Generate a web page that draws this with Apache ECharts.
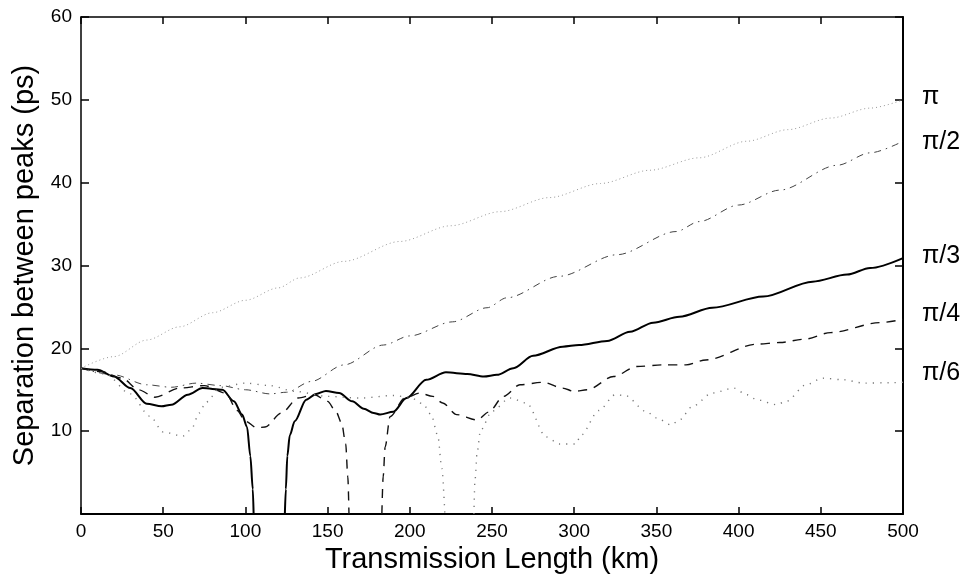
<!DOCTYPE html>
<html>
<head>
<meta charset="utf-8">
<script src="https://cdn.jsdelivr.net/npm/echarts@6/dist/echarts.min.js"></script>
<style>
  html, body { margin: 0; padding: 0; background: #fff; }
  #chart { width: 970px; height: 580px; }
</style>
</head>
<body>
<div id="chart"></div>
<script>
// Peak separation (ps) versus transmission length (km), one curve per initial relative phase.
const xTicks = [0, 50, 100, 150, 200, 250, 300, 350, 400, 450, 500];
const yTicks = [10, 20, 30, 40, 50, 60];

const phasePi = [
  [0, 17.6], [20, 19.0], [40, 21.0], [60, 22.6], [80, 24.3], [100, 25.8], [120, 27.3],
  [133, 28.5], [160, 30.5], [194, 32.9], [225, 34.8], [255, 36.5], [285, 38.2],
  [316, 39.9], [346, 41.5], [376, 43.0], [405, 45.0], [430, 46.4], [456, 47.8],
  [480, 49.0], [500, 50.0]
];

const phaseHalfPi = [
  [0, 17.6], [20, 16.8], [40, 15.6], [55, 15.3], [70, 15.8], [85, 15.5], [100, 15.0],
  [115, 14.5], [125, 14.7], [140, 16.0], [160, 18.0], [184, 20.4], [200, 21.5],
  [226, 23.2], [247, 24.9], [259, 26.1], [291, 28.7], [326, 31.3], [362, 34.1],
  [376, 35.3], [400, 37.3], [425, 39.1], [460, 42.1], [480, 43.6], [500, 45.0]
];

const phaseThirdPi = [
  [0, 17.6], [10, 17.4], [20, 16.6], [30, 15.2], [40, 13.3], [49, 13.0], [55, 13.2],
  [65, 14.4], [74, 15.2], [86, 15.0], [93, 13.6], [98, 12.0], [101, 10.5], [103, 7.0],
  [104.5, 3.0], [105, 0], [114, null],
  [124, 0], [124.6, 3.0], [125.5, 7.0], [127, 9.5], [130, 11.2], [137, 13.8], [143, 14.5],
  [149, 14.85], [157, 14.6], [165, 13.6], [172, 12.7], [178, 12.2], [182, 12.0],
  [190, 12.35], [198, 14.0], [210, 16.2], [222, 17.1], [235, 16.9], [245, 16.6],
  [253, 16.8], [263, 17.6], [275, 19.1], [293, 20.2], [303, 20.4], [320, 20.9],
  [334, 22.0], [348, 23.1], [364, 23.8], [384, 24.9], [415, 26.25], [445, 28.05],
  [466, 28.9], [480, 29.7], [500, 30.9]
];

const phaseQuarterPi = [
  [0, 17.6], [12, 17.2], [25, 16.4], [35, 15.0], [45, 14.1], [60, 15.2], [75, 15.5],
  [88, 14.6], [95, 12.5], [100, 11.2], [107, 10.4], [112, 10.5], [122, 12.2], [132, 14.0],
  [142, 14.4], [150, 13.6], [155, 12.4], [158.5, 11.0], [161, 8.5], [162.3, 4.5],
  [163, 0], [173, null],
  [183, 0], [183.8, 4.5], [185, 8.1], [188, 11.75], [197, 14.0], [206, 14.6], [214, 14.2],
  [220, 13.4], [228.5, 12.0], [241, 11.35], [248, 12.3], [257, 14.2], [267, 15.6],
  [281, 15.9], [293, 15.2], [300, 14.8], [308, 15.0], [324, 16.6], [338, 17.8],
  [354, 18.0], [368, 18.0], [380, 18.6], [411, 20.5], [425, 20.7], [440, 21.1],
  [456, 21.9], [486, 23.1], [500, 23.5]
];

const phaseSixthPi = [
  [0, 17.6], [15, 16.9], [30, 14.5], [42, 11.8], [50, 9.9], [62, 9.4], [67, 10.2],
  [72, 12.2], [76, 13.5], [85, 15.3], [100, 15.8], [115, 15.5], [130, 14.8], [150, 14.2],
  [170, 14.0], [190, 14.3], [200, 14.1], [208, 13.3], [213, 12.0], [217, 9.5],
  [219.5, 5.5], [221.3, 0], [230, null],
  [239, 0], [239.6, 4.0], [241, 7.5], [243, 10.1], [250, 12.4], [261, 14.0], [271, 13.4],
  [283, 9.3], [291, 8.45], [301, 8.45], [304, 9.5], [315, 12.5], [325, 14.4], [331, 14.3],
  [344, 12.35], [350, 11.6], [359, 10.75], [364, 11.35], [372, 13.0], [384, 14.6],
  [397, 15.2], [405, 14.4], [411, 13.8], [423, 13.2], [429, 13.6], [441, 15.6],
  [451, 16.4], [464, 16.2], [476, 15.8], [492, 15.85], [500, 15.9]
];

const seriesNames = ['\u03c0', '\u03c0/2', '\u03c0/3', '\u03c0/4', '\u03c0/6'];

const chart = echarts.init(document.getElementById('chart'), null, { renderer: 'canvas' });

const baseFont = 'Liberation Sans, Arial, Helvetica, sans-serif';

function curve(name, data, lineStyle, labelOffsetY) {
  return {
    name: name,
    type: 'line',
    data: data,
    showSymbol: false,
    symbol: 'none',
    smooth: 0.3,
    smoothMonotone: 'x',
    connectNulls: false,
    clip: true,
    lineStyle: lineStyle,
    endLabel: {
      show: true,
      formatter: name,
      distance: 19,
      offset: [0, labelOffsetY],
      color: '#000',
      fontFamily: baseFont,
      fontSize: 25
    },
    emphasis: { disabled: true },
    z: 3
  };
}

const tickFont = { color: '#000', fontFamily: baseFont, fontSize: 19 };

chart.setOption({
  animation: false,
  backgroundColor: '#fff',
  grid: { left: 81, right: 67, top: 17, bottom: 66, containLabel: false },
  xAxis: [
    {
      type: 'value', min: 0, max: 500, interval: 50, position: 'bottom',
      name: 'Transmission Length (km)', nameLocation: 'middle', nameGap: 28,
      nameTextStyle: { color: '#000', fontFamily: baseFont, fontSize: 29 },
      axisLine: { show: true, onZero: false, lineStyle: { color: '#000', width: 2 } },
      axisTick: { show: true, inside: true, length: 7, lineStyle: { color: '#000', width: 1.5 } },
      axisLabel: Object.assign({ margin: 8 }, tickFont),
      splitLine: { show: false }
    },
    {
      type: 'value', min: 0, max: 500, interval: 50, position: 'top',
      axisLine: { show: true, onZero: false, lineStyle: { color: '#000', width: 1.5 } },
      axisTick: { show: true, inside: true, length: 7, lineStyle: { color: '#000', width: 1.5 } },
      axisLabel: { show: false },
      splitLine: { show: false }
    }
  ],
  yAxis: [
    {
      type: 'value', min: 0, max: 60, interval: 10, position: 'left',
      name: 'Separation between peaks (ps)', nameLocation: 'middle', nameGap: 41,
      nameTextStyle: { color: '#000', fontFamily: baseFont, fontSize: 29 },
      axisLine: { show: true, onZero: false, lineStyle: { color: '#000', width: 1.5 } },
      axisTick: { show: true, inside: true, length: 8, lineStyle: { color: '#000', width: 1.5 } },
      axisLabel: Object.assign({
        margin: 9,
        formatter: function (v) { return yTicks.indexOf(v) >= 0 ? String(v) : ''; }
      }, tickFont),
      splitLine: { show: false }
    },
    {
      type: 'value', min: 0, max: 60, interval: 10, position: 'right',
      axisLine: { show: true, onZero: false, lineStyle: { color: '#000', width: 2 } },
      axisTick: { show: true, inside: true, length: 8, lineStyle: { color: '#000', width: 1.5 } },
      axisLabel: { show: false },
      splitLine: { show: false }
    }
  ],
  series: [
    curve(seriesNames[0], phasePi, { color: '#999', width: 1, type: [1, 3] }, -3),
    curve(seriesNames[1], phaseHalfPi, { color: '#444', width: 1, type: [7, 5, 1.5, 5] }, 1),
    curve(seriesNames[2], phaseThirdPi, { color: '#000', width: 2 }, -2),
    curve(seriesNames[3], phaseQuarterPi, { color: '#111', width: 1.4, type: [9, 7] }, -5),
    curve(seriesNames[4], phaseSixthPi, { color: '#777', width: 1.4, type: [1.2, 6] }, -9)
  ]
});
</script>
</body>
</html>
